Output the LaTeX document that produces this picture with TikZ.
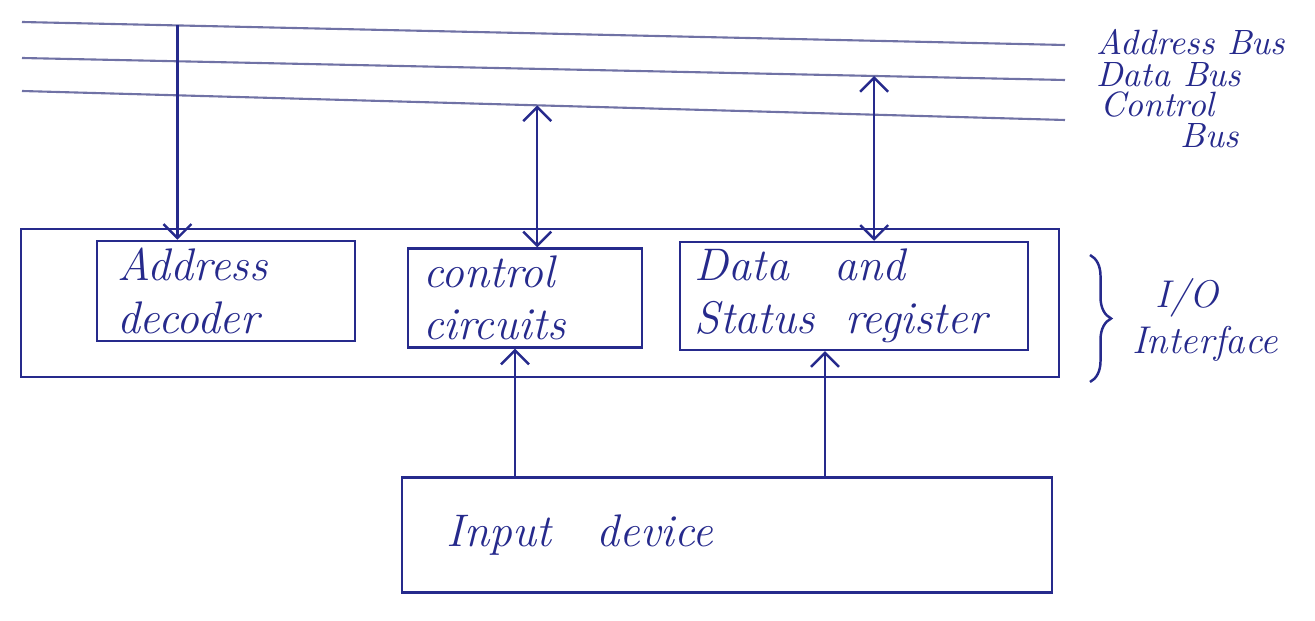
\documentclass[tikz,border=0pt]{standalone}
\usepackage{xcolor}
\usepackage{tikz}
\usetikzlibrary{arrows.meta,positioning,calc,decorations.pathreplacing}
\definecolor{InkBlue}{RGB}{38,42,140}
\definecolor{BusGray}{RGB}{112,114,165}

\begin{document}
\begin{tikzpicture}[
    x=1cm,y=1cm,
    unit/.style={draw=InkBlue, line width=0.7pt, align=left, text=InkBlue, inner ysep=2pt, font=\itshape\fontsize{13}{15}\selectfont},
    busline/.style={draw=BusGray, line width=0.6pt},
    link/.style={-{Straight Barb[length=1.4mm,width=2.8mm]}, draw=InkBlue, line width=0.7pt},
    twoway/.style={link, {Straight Barb[length=1.4mm,width=2.8mm]}-{Straight Barb[length=1.4mm,width=2.8mm]}},
    tag/.style={text=InkBlue, font=\itshape\fontsize{10}{12}\selectfont, inner ysep=0.5pt, align=left, anchor=west}
  ]
    \useasboundingbox (0,0) rectangle (13.15,-6.21);
    % system buses, left to right
    \foreach \name/\ya/\yb in {abus/-0.22/-0.45,dbus/-0.58/-0.80,cbus/-0.91/-1.20} {
      \coordinate (\name-w) at (0.22,\ya);
      \coordinate (\name-e) at (10.65,\yb);
      \draw[busline] (\name-w) -- (\name-e);
    }
    \node[tag] (abuslab) at (10.84,-0.42) {Address Bus};
    \node[tag] (dbuslab) at (10.84,-0.75) {Data Bus};
    \node[tag] (cbuslab) at (10.88,-1.05) {Control};
    \node[tag] (cbuslab2) at (11.68,-1.36) {Bus};
    % taps on the buses
    \coordinate (atap) at ($(abus-w)!0.149!(abus-e)$);
    \coordinate (ctap) at ($(cbus-w)!0.494!(cbus-e)$);
    \coordinate (dtap) at ($(dbus-w)!0.817!(dbus-e)$);
    % interface and its units
    \node[draw=InkBlue, line width=0.7pt, minimum width=10.38cm, minimum height=1.48cm] (iface) at (5.40,-3.03) {};
    \node[unit, text width=2.18cm, inner xsep=0.2cm, minimum height=0.78cm] (decoder) at (2.26,-2.91) {Address\\decoder};
    \node[unit, text width=2.04cm, inner xsep=0.15cm, minimum height=0.95cm] (ctrl) at (5.25,-2.98) {control\\circuits};
    \node[unit, text width=3.18cm, inner xsep=0.15cm, minimum height=0.97cm] (datareg) at (8.54,-2.96) {Data~~ and\\Status~ register};
    \node[unit, text width=5.6cm, inner xsep=0.45cm, minimum height=1.15cm] (device) at (7.27,-5.35) {Input~~ device};
    % brace round the interface
    \coordinate (brtop) at (10.90,-2.55);
    \coordinate (brbot) at (10.90,-3.82);
    \draw[InkBlue, line width=0.7pt, decorate, decoration={brace, amplitude=6pt}] (brtop) -- (brbot);
    \node[tag, font=\itshape\fontsize{11}{13}\selectfont] (ifacelab) at (11.20,-3.20) {\hspace*{0.6em}I/O\\Interface};
    % connections
    \draw[link] (atap) -- (atap |- decoder.north);
    \draw[twoway] (ctap |- ctrl.north) -- (ctap);
    \draw[twoway] (dtap |- datareg.north) -- (dtap);
    \draw[link] ([xshift=-0.1cm]device.north -| ctrl.south) -- ([xshift=-0.1cm]ctrl.south);
    \draw[link] ([xshift=-0.29cm]device.north -| datareg.south) -- ([xshift=-0.29cm]datareg.south);
  \end{tikzpicture}
\end{document}
